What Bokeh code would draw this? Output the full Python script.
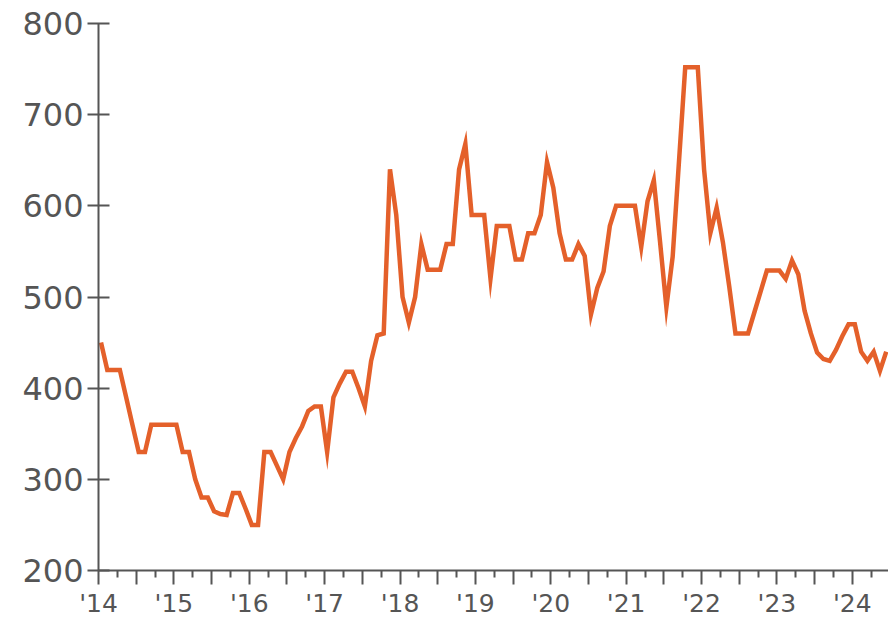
from bokeh.plotting import figure
from bokeh.models import FixedTicker, Range1d
from bokeh.embed import file_html
from bokeh.resources import INLINE

# Monthly values, Jan 2014 .. Jun 2024
values = [
    450, 420, 420, 420, 390, 360, 330, 330, 360, 360, 360, 360,   # 2014
    360, 330, 330, 300, 280, 280, 265, 262, 261, 285, 285, 268,   # 2015
    250, 250, 330, 330, 315, 300, 330, 345, 358, 375, 380, 380,   # 2016
    330, 390, 405, 418, 418, 400, 380, 430, 458, 460, 640, 590,   # 2017
    500, 472, 500, 558, 530, 530, 530, 558, 558, 640, 668, 590,   # 2018
    590, 590, 520, 578, 578, 578, 541, 541, 570, 570, 590, 648,   # 2019
    620, 570, 541, 541, 558, 545, 481, 510, 528, 578, 600, 600,   # 2020
    600, 600, 555, 605, 628, 560, 489, 544, 648, 752, 752, 752,   # 2021
    640, 570, 598, 560, 512, 460, 460, 460, 483, 506, 529, 529,   # 2022
    529, 520, 540, 525, 485, 460, 439, 432, 430, 442, 457, 470,   # 2023
    470, 440, 430, 440, 419, 440,                                 # 2024
]
start_year = 2014
years = list(range(2014, 2025))
year_labels = ["'14", "'15", "'16", "'17", "'18", "'19", "'20", "'21", "'22", "'23", "'24"]
y_ticks = [200, 300, 400, 500, 600, 700, 800]

x_end = 2024.48
xs = [start_year + (i + 0.4) / 12 for i in range(len(values))]

p = figure(width=888, height=620, output_backend="svg", toolbar_location=None,
           x_range=Range1d(2014, x_end), y_range=Range1d(200, 800),
           min_border_left=98, min_border_right=0, min_border_top=23, min_border_bottom=48)
p.outline_line_color = None
p.grid.visible = False
p.background_fill_color = "white"
p.border_fill_color = "white"

p.line(xs, values, line_color="#E4602A", line_width=4.5, line_join="miter")

axis_color = "#555555"
font = "DejaVu Sans"

major_x = []
overrides = {}
for y, lab in zip(years, year_labels):
    major_x.append(y)
    overrides[y] = lab
    if y + 0.5 < x_end:
        major_x.append(y + 0.5)
        overrides[y + 0.5] = ""
minor_x = [y + q for y in years for q in (0.25, 0.75) if y + q < x_end]

xa = p.xaxis[0]
xa.ticker = FixedTicker(ticks=major_x, minor_ticks=minor_x)
xa.major_label_overrides = overrides
xa.axis_line_color = axis_color
xa.axis_line_width = 2
xa.major_tick_line_color = axis_color
xa.major_tick_line_width = 2
xa.minor_tick_line_color = axis_color
xa.minor_tick_line_width = 2
xa.major_tick_in = 0
xa.major_tick_out = 14
xa.minor_tick_in = 0
xa.minor_tick_out = 7
xa.major_label_standoff = 4
xa.major_label_text_font = font
xa.major_label_text_font_size = "25px"
xa.major_label_text_color = axis_color

ya = p.yaxis[0]
ya.ticker = FixedTicker(ticks=y_ticks)
ya.axis_line_color = axis_color
ya.axis_line_width = 2
ya.major_tick_line_color = axis_color
ya.major_tick_line_width = 2
ya.major_tick_in = 11
ya.major_tick_out = 11
ya.minor_tick_line_color = None
ya.major_label_standoff = 4
ya.major_label_text_font = font
ya.major_label_text_font_size = "32px"
ya.major_label_text_color = axis_color

open("out.html", "w").write(file_html(p, INLINE))
